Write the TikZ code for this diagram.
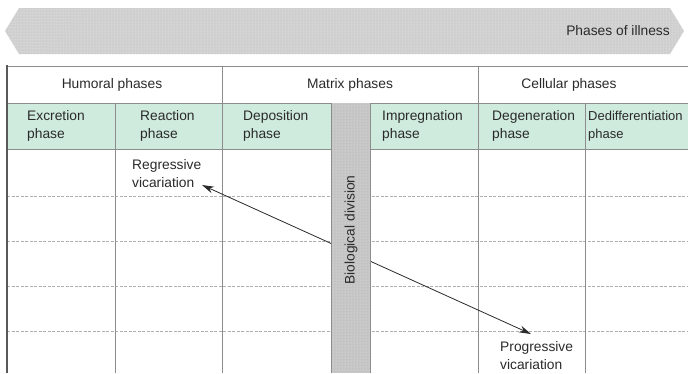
\documentclass[tikz,border=0pt]{standalone}
\usepackage{fontspec}
\setmainfont{Liberation Sans}
\usetikzlibrary{arrows.meta,patterns}
\definecolor{mint}{HTML}{CFEBDD}
\definecolor{bandgray}{HTML}{C4C4C4}
\definecolor{linegray}{HTML}{8C8C8C}
\definecolor{txt}{HTML}{2A2A2A}
\tikzset{
  lbl/.style={font=\fontsize{13.8}{18}\selectfont, text=txt, inner sep=0pt, align=left, anchor=west},
  hdr/.style={font=\fontsize{13.8}{18}\selectfont, text=txt, inner sep=0pt},
  grid/.style={draw=linegray, line width=0.7pt},
  dgrid/.style={draw=linegray!70, line width=0.6pt, dash pattern=on 3pt off 1.5pt},
  vic/.style={draw=txt, line width=0.8pt, {Stealth[length=12pt,width=7pt]}-{Stealth[length=12pt,width=7pt]}}
}
\begin{document}
\begin{tikzpicture}[x=1pt,y=-1pt]
\useasboundingbox (0,0) rectangle (688,373);
% banner
\fill[gray!38] (5,31) -- (19,8) -- (670,8) -- (684,31) -- (670,54) -- (19,54) -- cycle;
\fill[pattern=dots, pattern color=white!90!gray] (5,31) -- (19,8) -- (670,8) -- (684,31) -- (670,54) -- (19,54) -- cycle;
\node[hdr, anchor=east] (ill) at (670,31) {Phases of illness};
% green row
\fill[mint] (7,103) rectangle (688,149);
% body lines
\foreach \y in {196,241,286,331} \draw[dgrid] (7,\y) -- (688,\y);
\draw[grid] (7,66) -- (688,66);
\draw[grid] (7,103) -- (688,103);
\draw[grid] (7,149) -- (688,149);
\draw[grid] (222,66) -- (222,373);
\draw[grid] (478,66) -- (478,373);
\draw[grid] (115,103) -- (115,373);
\draw[grid] (585,103) -- (585,373);
% arrow
\coordinate (rv) at (202,185);
\coordinate (pv) at (531,334);
\draw[vic] (rv) -- (pv);
% band
\fill[bandgray] (331,103) rectangle (370,373);
\fill[pattern=dots, pattern color=white!85!gray] (331,103) rectangle (370,373);
\draw[linegray, line width=0.7pt] (331,103) -- (331,373) (370,103) -- (370,373);
\node[hdr, rotate=90] (bio) at (351,230) {Biological division};
% left border
\draw[black!65, line width=1.5pt] (7,65) -- (7,373);
% headers
\node[hdr] (hum) at (112,85) {Humoral phases};
\node[hdr] (mat) at (350,85) {Matrix phases};
\node[hdr] (cel) at (569,85) {Cellular phases};
\node[lbl] (exc) at (27,126) {Excretion\\phase};
\node[lbl] (rea) at (140,126) {Reaction\\phase};
\node[lbl] (dep) at (243,126) {Deposition\\phase};
\node[lbl] (imp) at (382,126) {Impregnation\\phase};
\node[lbl] (deg) at (492,126) {Degeneration\\phase};
\node[lbl, font=\fontsize{13}{18}\selectfont] (ded) at (588,126) {Dedifferentiation\\phase};
\node[lbl] (reg) at (132,174) {Regressive\\vicariation};
\node[lbl] (pro) at (500,356) {Progressive\\vicariation};
\end{tikzpicture}
\end{document}
